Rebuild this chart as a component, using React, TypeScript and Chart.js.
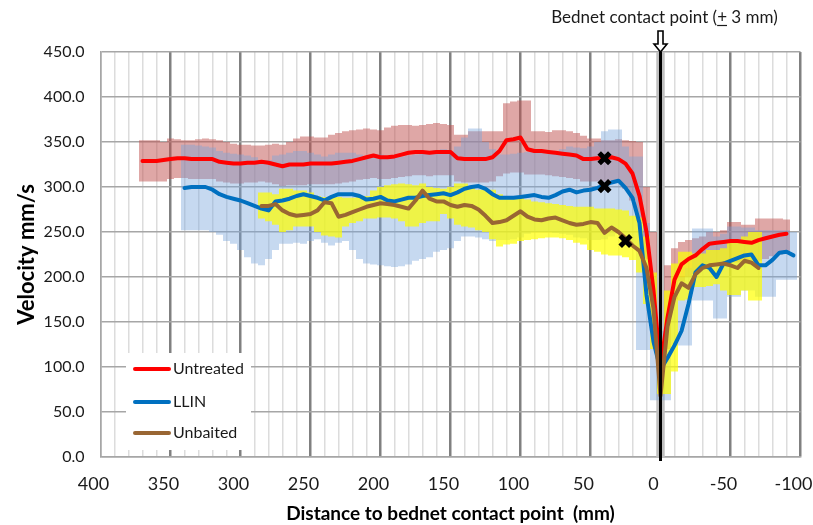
import React, { useEffect, useRef } from 'react';
import { Chart, registerables } from 'chart.js';

Chart.register(...registerables);

const FONT = 'Lato, "Open Sans", sans-serif';

// ---------- data ----------
const seriesNames = ['Untreated', 'LLIN', 'Unbaited'];

const untreatedDist = [370, 365, 360, 355, 350, 345, 340, 335, 330, 325, 320, 315, 310, 305, 300, 295, 290, 285, 280, 275, 270, 265, 260, 255, 250, 245, 240, 235, 230, 225, 220, 215, 210, 205, 200, 195, 190, 185, 180, 175, 170, 165, 160, 155, 150, 145, 140, 135, 130, 125, 120, 115, 110, 105, 100, 95, 90, 85, 80, 75, 70, 65, 60, 55, 50, 45, 40, 35, 30, 25, 20, 15, 10, 5, 0, -5, -10, -15, -20, -25, -30, -35, -40, -45, -50, -55, -60, -65, -70, -75, -80, -85, -90];
const untreatedMean = [329, 329, 329, 330, 331, 332, 332, 331, 331, 331, 331, 328, 327, 326, 326, 327, 327, 328, 327, 325, 323, 325, 325, 325, 326, 326, 326, 326, 327, 328, 329, 331, 333, 335, 333, 333, 334, 336, 338, 339, 339, 338, 339, 339, 339, 332, 331, 331, 331, 331, 333, 340, 352, 353, 355, 342, 340, 340, 339, 338, 337, 336, 335, 331, 331, 332, 332, 333, 331, 326, 315, 290, 250, 185, 100, 155, 197, 214, 220, 224, 231, 237, 238, 239, 240, 240, 239, 238, 241, 243, 245, 247, 248];
const untreatedHigh = [352, 352, 352, 350, 354, 353, 352, 352, 353, 354, 353, 352, 350, 348, 347, 347, 346, 346, 347, 348, 347, 350, 354, 356, 356, 355, 355, 358, 360, 362, 363, 364, 365, 364, 363, 366, 368, 369, 369, 368, 369, 370, 371, 370, 369, 358, 358, 362, 362, 362, 362, 362, 393, 395, 396, 396, 362, 362, 361, 363, 363, 362, 360, 357, 354, 354, 352, 352, 353, 352, 351, 350, 300, 250, 118, 213, 232, 239, 241, 243, 245, 250, 250, 252, 261, 261, 258, 258, 265, 265, 265, 265, 264];
const untreatedLow = [306, 306, 306, 306, 309, 310, 310, 309, 309, 309, 309, 306, 305, 304, 304, 305, 305, 306, 305, 303, 301, 302, 302, 302, 303, 303, 303, 303, 304, 305, 306, 308, 309, 310, 309, 309, 310, 311, 312, 313, 313, 312, 313, 313, 313, 306, 305, 305, 305, 305, 306, 312, 315, 316, 316, 314, 314, 314, 313, 312, 311, 310, 309, 306, 306, 306, 306, 306, 305, 298, 285, 262, 220, 140, 90, 120, 175, 195, 200, 203, 208, 212, 214, 215, 216, 216, 215, 214, 218, 220, 223, 225, 228];

const llinDist = [340, 335, 330, 325, 320, 315, 310, 305, 300, 295, 290, 285, 280, 275, 270, 265, 260, 255, 250, 245, 240, 235, 230, 225, 220, 215, 210, 205, 200, 195, 190, 185, 180, 175, 170, 165, 160, 155, 150, 145, 140, 135, 130, 125, 120, 115, 110, 105, 100, 95, 90, 85, 80, 75, 70, 65, 60, 55, 50, 45, 40, 35, 30, 25, 20, 15, 10, 5, 0, -5, -10, -15, -20, -25, -30, -35, -40, -45, -50, -55, -60, -65, -70, -75, -80, -85, -90, -95];
const llinMean = [299, 300, 300, 300, 297, 292, 289, 287, 285, 282, 279, 276, 274, 284, 285, 287, 290, 292, 290, 288, 285, 289, 292, 292, 292, 290, 286, 287, 289, 285, 284, 286, 288, 288, 290, 291, 292, 293, 291, 294, 298, 300, 301, 298, 292, 288, 288, 288, 289, 290, 291, 289, 288, 291, 295, 297, 294, 296, 297, 299, 302, 305, 307, 299, 288, 260, 180, 128, 97, 110, 124, 140, 170, 205, 213, 210, 200, 215, 218, 221, 224, 225, 213, 213, 219, 227, 228, 224];
const llinHigh = [347, 347, 346, 345, 344, 340, 338, 337, 336, 335, 333, 330, 330, 335, 336, 338, 340, 340, 338, 336, 334, 336, 338, 338, 338, 336, 334, 334, 336, 334, 333, 334, 335, 336, 338, 340, 341, 342, 340, 345, 355, 365, 365, 350, 342, 336, 336, 337, 338, 339, 340, 338, 337, 338, 342, 345, 344, 343, 345, 350, 362, 364, 364, 345, 334, 334, 260, 200, 140, 160, 195, 200, 210, 254, 254, 254, 245, 248, 256, 256, 255, 255, 252, 252, 252, 252, 252, 250];
const llinLow = [252, 252, 252, 252, 250, 247, 240, 237, 230, 222, 215, 213, 220, 230, 237, 237, 238, 237, 240, 242, 238, 235, 238, 240, 230, 220, 215, 214, 213, 212, 211, 212, 214, 218, 220, 222, 228, 230, 232, 240, 245, 245, 244, 242, 240, 241, 241, 242, 244, 248, 250, 250, 250, 249, 248, 247, 244, 243, 241, 241, 242, 245, 248, 245, 235, 119, 119, 63, 63, 63, 124, 124, 124, 174, 174, 174, 154, 154, 178, 178, 185, 185, 178, 178, 178, 197, 197, 197];

const unbaitedDist = [285, 280, 275, 270, 265, 260, 255, 250, 245, 240, 235, 230, 225, 220, 215, 210, 205, 200, 195, 190, 185, 180, 175, 170, 165, 160, 155, 150, 145, 140, 135, 130, 125, 120, 115, 110, 105, 100, 95, 90, 85, 80, 75, 70, 65, 60, 55, 50, 45, 40, 35, 30, 25, 20, 15, 10, 5, 0, -5, -10, -15, -20, -25, -30, -35, -40, -45, -50, -55, -60, -65, -70];
const unbaitedMean = [279, 279, 281, 274, 270, 268, 269, 270, 274, 283, 282, 267, 269, 272, 275, 278, 280, 282, 281, 280, 278, 276, 285, 296, 287, 284, 284, 280, 278, 280, 279, 275, 268, 260, 261, 263, 268, 273, 267, 264, 263, 265, 266, 263, 260, 258, 259, 261, 260, 249, 255, 250, 243, 235, 229, 210, 165, 68, 145, 178, 193, 188, 203, 210, 213, 214, 215, 213, 210, 218, 216, 210];
const unbaitedHigh = [294, 294, 292, 298, 298, 296, 296, 294, 290, 289, 289, 289, 288, 288, 289, 290, 296, 300, 302, 303, 304, 303, 302, 304, 300, 299, 298, 300, 304, 304, 300, 297, 297, 297, 292, 288, 288, 288, 286, 284, 283, 282, 281, 280, 279, 278, 278, 278, 276, 276, 276, 275, 274, 268, 266, 245, 205, 130, 185, 215, 228, 228, 226, 226, 230, 230, 232, 241, 241, 245, 250, 250];
const unbaitedLow = [265, 262, 258, 250, 252, 256, 256, 256, 250, 246, 245, 244, 256, 260, 262, 265, 265, 266, 266, 265, 262, 256, 256, 260, 262, 262, 270, 265, 258, 256, 255, 252, 250, 242, 234, 236, 237, 240, 241, 242, 243, 244, 244, 243, 241, 238, 236, 230, 228, 225, 224, 224, 222, 219, 205, 170, 120, 70, 70, 95, 174, 175, 189, 189, 190, 192, 185, 180, 180, 185, 174, 174];

// black "x" marks
const markDist = [40, 40, 25];
const markValue = [332, 301, 240];

const xTickLabels = [400, 350, 300, 250, 200, 150, 100, 50, 0, -50, -100];
const bednetHalfWidth = 3;

const lineColors = ['#ff0000', '#0070c0', '#996633'];
const barColors = ['rgba(192,80,77,0.5)', 'rgba(120,165,220,0.42)', 'rgba(255,255,0,0.7)'];

const pts = (d: number[], v: number[]) => d.map((x, i) => ({ x, y: v[i] }));
const rng = (d: number[], lo: number[], hi: number[]) => d.map((x, i) => ({ x, y: [lo[i], hi[i]] }));

const bednetPlugin = {
  id: 'bednet',
  beforeDatasetsDraw(chart: any) {
    const { ctx, chartArea, scales } = chart;
    const a = scales.x.getPixelForValue(bednetHalfWidth);
    const b = scales.x.getPixelForValue(-bednetHalfWidth);
    ctx.save();
    ctx.fillStyle = '#bfbfbf';
    ctx.fillRect(Math.min(a, b), chartArea.top, Math.abs(b - a), chartArea.bottom - chartArea.top);
    ctx.restore();
  },
  afterDatasetsDraw(chart: any) {
    const { ctx, chartArea, scales } = chart;
    const x0 = scales.x.getPixelForValue(0);
    ctx.save();
    ctx.strokeStyle = '#000';
    ctx.lineWidth = 3;
    ctx.beginPath();
    ctx.moveTo(x0, chartArea.top);
    ctx.lineTo(x0, chartArea.bottom + 4);
    ctx.stroke();

    // legend box
    const lx = Math.round(chartArea.left + 25);
    const ly = Math.round(chartArea.bottom - 104);
    ctx.fillStyle = '#ffffff';
    ctx.fillRect(lx, ly, 125, 97);
    const rows = [16, 49, 80];
    ctx.font = `16px ${FONT}`;
    ctx.textBaseline = 'middle';
    ctx.textAlign = 'left';
    seriesNames.forEach((name, i) => {
      const yy = ly + rows[i];
      ctx.strokeStyle = lineColors[i];
      ctx.lineWidth = 4;
      ctx.lineCap = 'round';
      ctx.beginPath();
      ctx.moveTo(lx + 9, yy);
      ctx.lineTo(lx + 43, yy);
      ctx.stroke();
      ctx.fillStyle = '#1a1a1a';
      ctx.fillText(name, lx + 47, yy);
    });
    ctx.restore();
  },
  afterDraw(chart: any) {
    const { ctx, chartArea, scales } = chart;
    const x0 = scales.x.getPixelForValue(0);
    const top = chartArea.top;
    ctx.save();
    // arrow
    ctx.beginPath();
    ctx.moveTo(x0 - 2.5, top - 21);
    ctx.lineTo(x0 + 2.5, top - 21);
    ctx.lineTo(x0 + 2.5, top - 8);
    ctx.lineTo(x0 + 6.5, top - 8);
    ctx.lineTo(x0, top);
    ctx.lineTo(x0 - 6.5, top - 8);
    ctx.lineTo(x0 - 2.5, top - 8);
    ctx.closePath();
    ctx.fillStyle = '#fff';
    ctx.fill();
    ctx.strokeStyle = '#000';
    ctx.lineWidth = 1.6;
    ctx.stroke();

    // label with underlined plus sign
    const parts = ['Bednet contact point (', '+', ' 3 mm)'];
    ctx.font = `17px ${FONT}`;
    ctx.fillStyle = '#1a1a1a';
    ctx.textBaseline = 'alphabetic';
    ctx.textAlign = 'left';
    const widths = parts.map((p) => ctx.measureText(p).width);
    const total = widths.reduce((s, w) => s + w, 0);
    let cx = x0 + 4 - total / 2;
    const base = 23;
    parts.forEach((p, i) => {
      ctx.fillText(p, cx, base);
      if (i === 1) {
        ctx.lineWidth = 1.2;
        ctx.strokeStyle = '#1a1a1a';
        ctx.beginPath();
        ctx.moveTo(cx, base + 2.5);
        ctx.lineTo(cx + widths[i], base + 2.5);
        ctx.stroke();
      }
      cx += widths[i];
    });
    ctx.restore();
  },
};

export default function App() {
  const ref = useRef<HTMLCanvasElement>(null);

  useEffect(() => {
    const barCommon = { type: 'bar', grouped: false, barPercentage: 1, categoryPercentage: 1, borderWidth: 0, inflateAmount: 0 };
    const lineCommon = { type: 'line', borderWidth: 4, pointRadius: 0, tension: 0, borderJoinStyle: 'round', borderCapStyle: 'round', fill: false };
    const chart = new Chart(ref.current as HTMLCanvasElement, {
      type: 'line',
      data: {
        datasets: [
          { ...barCommon, label: 'Untreated range', data: rng(untreatedDist, untreatedLow, untreatedHigh), backgroundColor: barColors[0], order: 6 },
          { ...barCommon, label: 'LLIN range', data: rng(llinDist, llinLow, llinHigh), backgroundColor: barColors[1], order: 5 },
          { ...barCommon, label: 'Unbaited range', data: rng(unbaitedDist, unbaitedLow, unbaitedHigh), backgroundColor: barColors[2], order: 4 },
          { ...lineCommon, label: seriesNames[0], data: pts(untreatedDist, untreatedMean), borderColor: lineColors[0], order: 3 },
          { ...lineCommon, label: seriesNames[1], data: pts(llinDist, llinMean), borderColor: lineColors[1], order: 2 },
          { ...lineCommon, label: seriesNames[2], data: pts(unbaitedDist, unbaitedMean), borderColor: lineColors[2], order: 1 },
          {
            type: 'line', label: 'marks', data: pts(markDist, markValue), showLine: false,
            pointStyle: 'crossRot', pointRadius: 7.5, pointBorderWidth: 5, pointBorderColor: '#000', pointBackgroundColor: '#000', order: 0,
          },
        ] as any,
      },
      options: {
        responsive: false,
        animation: false,
        devicePixelRatio: 1,
        events: [],
        layout: { padding: { top: 52, right: 12.5, left: 0.5, bottom: 0 } },
        plugins: { legend: { display: false }, tooltip: { enabled: false } },
        scales: {
          x: {
            type: 'linear',
            min: -100,
            max: 400,
            reverse: true,
            offset: false,
            afterFit: (s: any) => { s.height = 68; s.paddingLeft = 0; s.paddingRight = 0; },
            ticks: {
              stepSize: 10,
              autoSkip: false,
              maxRotation: 0,
              labelOffset: -7,
              padding: 16,
              color: '#1a1a1a',
              font: { family: FONT, size: 18 },
              callback: (v: any) => (xTickLabels.includes(Number(v)) ? String(v) : ''),
            },
            grid: {
              drawTicks: false,
              offset: false,
              color: (c: any) => {
                const v = c.tick ? c.tick.value : 1;
                if (v === 0) return 'rgba(0,0,0,0)';
                if (v === 400) return '#a6a6a6';
                return v % 50 === 0 ? '#808080' : '#dcdcdc';
              },
              lineWidth: (c: any) => {
                const v = c.tick ? c.tick.value : 1;
                if (v === 400) return 1.5;
                return v % 50 === 0 ? 2.5 : 1.5;
              },
            },
            border: { display: true, color: '#a6a6a6', width: 1.5 },
            title: {
              display: true,
              text: 'Distance to bednet contact point  (mm)',
              color: '#000',
              font: { family: FONT, size: 19, weight: 'bold' },
              padding: { top: 0, bottom: 0 },
            },
          },
          y: {
            type: 'linear',
            min: 0,
            max: 450,
            afterFit: (s: any) => { s.width = 100; s.paddingTop = 0; s.paddingBottom = 0; },
            ticks: {
              stepSize: 50,
              padding: 16,
              color: '#1a1a1a',
              font: { family: FONT, size: 16 },
              callback: (v: any) => Number(v).toFixed(1),
            },
            grid: { drawTicks: false, color: '#a6a6a6', lineWidth: 1.5 },
            border: { display: true, color: '#a6a6a6', width: 1.5 },
            title: {
              display: true,
              text: 'Velocity mm/s',
              color: '#000',
              font: { family: FONT, size: 22, weight: 'bold' },
              padding: { top: 13, bottom: 0 },
            },
          },
        },
      } as any,
      plugins: [bednetPlugin as any],
    });
    return () => chart.destroy();
  }, []);

  return (
    <div style={{ position: 'absolute', left: 0, top: 0, width: 813, height: 525, background: '#fff' }}>
      <canvas ref={ref} width={813} height={525} style={{ display: 'block', width: 813, height: 525 }} />
    </div>
  );
}
